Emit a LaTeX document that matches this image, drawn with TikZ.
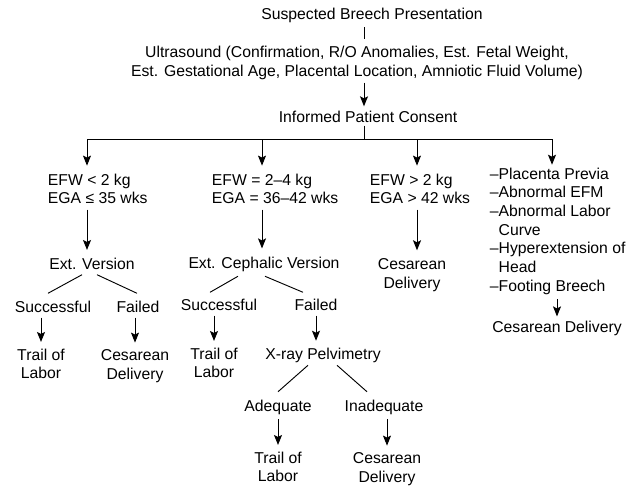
\documentclass[tikz,border=0pt]{standalone}
\usepackage{fontspec}
\setmainfont{Liberation Sans}
\usetikzlibrary{arrows.meta,calc}

\begin{document}
\begin{tikzpicture}[
  x=0.75pt, y=-0.75pt,
  font=\fontsize{11.8pt}{14pt}\selectfont,
  txt/.style={inner sep=2pt, align=center},
  lft/.style={inner sep=2pt, align=left, anchor=west},
  ln/.style={line width=0.7pt},
  arr/.style={-{Stealth[length=7.5pt,width=6pt,inset=1.5pt]}, line width=0.7pt}
]
\useasboundingbox (0,0) rectangle (641,486);

% top of the tree
\node[txt] (top) at (372,15) {Suspected Breech Presentation};
\node[txt] (us) at (357,63) {Ultrasound (Confirmation, R/O Anomalies, Est. Fetal Weight,\\Est. Gestational Age, Placental Location, Amniotic Fluid Volume)};
\node[txt] (ipc) at (368,117) {Informed Patient Consent};
\coordinate (b0) at (364,139);
\coordinate (b1) at (87,139);
\coordinate (b2) at (262,139);
\coordinate (b3) at (417,139);
\coordinate (b4) at (552,139);

% four branches
\node[lft] (efwA) at (45,189) {EFW < 2 kg\\EGA ≤ 35 wks};
\node[lft] (efwB) at (209,189) {EFW = 2–4 kg\\EGA = 36–42 wks};
\node[lft] (efwC) at (367,189) {EFW > 2 kg\\EGA > 42 wks};
\node[lft] (ind) at (487,231) {–Placenta Previa\\–Abnormal EFM\\–Abnormal Labor\\\phantom{–}Curve\\–Hyperextension of\\\phantom{–}Head\\–Footing Breech};

\node[txt] (verA) at (92,264) {Ext. Version};
\node[txt] (verB) at (264,264) {Ext. Cephalic Version};
\node[txt] (cesC) at (412,275) {Cesarean\\Delivery};
\node[txt] (cesE) at (557,328) {Cesarean Delivery};

\node[txt] (sucA) at (53,307) {Successful};
\node[txt] (failA) at (138,307) {Failed};
\node[txt] (sucB) at (219,305) {Successful};
\node[txt] (failB) at (316,305) {Failed};

\node[txt] (trA) at (41,364) {Trail of\\Labor};
\node[txt] (cesA) at (135,366) {Cesarean\\Delivery};
\node[txt] (trB) at (214,363) {Trail of\\Labor};
\node[txt] (xray) at (323,355) {X-ray Pelvimetry};

\node[txt] (adeq) at (278,407) {Adequate};
\node[txt] (inad) at (384,407) {Inadequate};
\node[txt] (trC) at (278,467) {Trail of\\Labor};
\node[txt] (cesD) at (387,469) {Cesarean\\Delivery};

% connectors
\draw[ln, shorten <=1.5pt, shorten >=3pt] (top.south -| b0) -- (us.north -| b0);
\draw[arr, shorten >=1.5pt] (us.south -| b0) -- (ipc.north -| b0);
\draw[ln] (ipc.south -| b0) -- (b0);
\draw[ln] (b1) -- (b4);
\foreach \col/\up in {b1/efwA, b2/efwB, b3/efwC} {
  \draw[arr, shorten >=4pt] (\col) -- (\col |- \up.north);
}
\draw[arr] (b4) -- (b4 |- ind.north);
\foreach \col/\up/\dn in {b1/efwA/verA, b2/efwB/verB, b3/efwC/cesC} {
  \draw[arr, shorten <=2pt, shorten >=4pt] (\col |- \up.south) -- (\col |- \dn.north);
}
\draw[arr, shorten <=1.5pt, shorten >=1pt] (ind.south -| cesE) -- (cesE.north);

\draw[ln] ($(verA.south)+(-10,2)$) -- ($(sucA.north)+(-5,-5)$);
\draw[ln] ($(verA.south)+(5,2)$) -- ($(failA.north)+(-1,-5)$);
\draw[ln] ($(verB.south)+(-26,2)$) -- ($(sucB.north)+(-9,-4)$);
\draw[ln] ($(verB.south)+(1,2)$) -- ($(failB.north)+(-13,-4)$);
\draw[ln] ($(xray.south)+(-15,0)$) -- ($(adeq.north)+(0,-5)$);
\draw[ln] ($(xray.south)+(14,0)$) -- ($(inad.north)+(-17,-5)$);

\foreach \x/\y in {sucA/trA, failA/cesA, sucB/trB, adeq/trC, inad/cesD} {
  \draw[arr, shorten <=1.5pt, shorten >=3pt] (\x.south -| \y) -- (\y.north);
}
\draw[arr, shorten <=1.5pt, shorten >=3pt] (failB.south) -- (failB.south |- xray.north);
\end{tikzpicture}
\end{document}
